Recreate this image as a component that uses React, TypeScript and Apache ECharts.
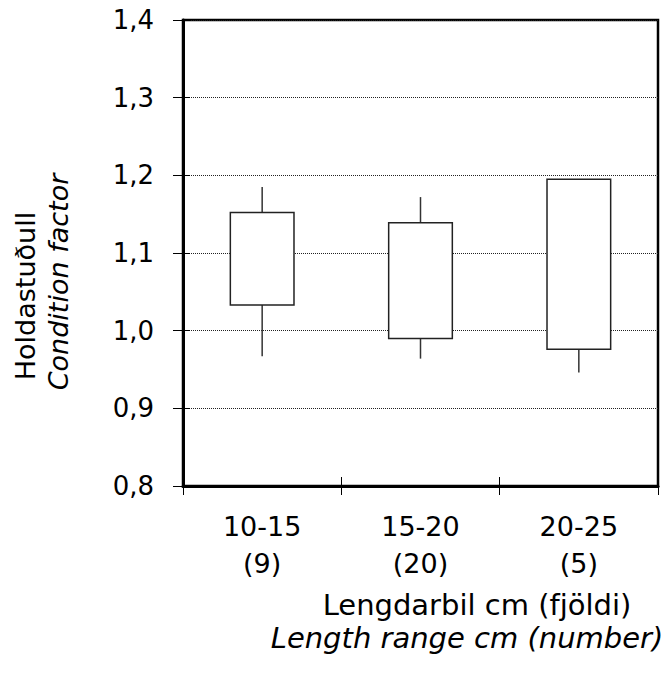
import React, { useEffect, useRef } from 'react';
import * as echarts from 'echarts';

const lengthRanges = ['10-15', '15-20', '20-25'];
const sampleCounts = [9, 20, 5];
const whiskerLow = [0.967, 0.964, 0.946];
const boxLow = [1.033, 0.99, 0.976];
const boxHigh = [1.152, 1.139, 1.195];
const whiskerHigh = [1.185, 1.172, 1.195];
const yMin = 0.8;
const yMax = 1.4;
const yStep = 0.1;
const yTitle = ['Holdastuðull', 'Condition factor'];
const xTitle = ['Lengdarbil cm (fjöldi)', 'Length range cm (number)'];

const FONT = '"DejaVu Sans", "Liberation Sans", Arial, sans-serif';

export default function App() {
  const ref = useRef<HTMLDivElement>(null);
  useEffect(() => {
    if (!ref.current) return;
    const chart = echarts.init(ref.current, undefined, { renderer: 'svg' });
    const categories = lengthRanges.map((r, i) => `${r}\n(${sampleCounts[i]})`);
    const data = lengthRanges.map((_, i) => [i, whiskerLow[i], boxLow[i], boxHigh[i], whiskerHigh[i]]);
    const fmt = (v: number) => v.toFixed(1).replace('.', ',');
    chart.setOption({
      animation: false,
      backgroundColor: '#fff',
      textStyle: { fontFamily: FONT },
      grid: {
        left: 183,
        right: 10,
        top: 20,
        bottom: 189,
        show: true,
        borderColor: '#000',
        borderWidth: 2.5,
        backgroundColor: 'transparent',
      },
      xAxis: [
        {
          type: 'category',
          data: categories,
          boundaryGap: true,
          axisLine: { show: true, lineStyle: { color: '#000', width: 3 } },
          axisTick: { show: true, inside: false, length: 9, alignWithLabel: false, interval: 0, lineStyle: { color: '#000', width: 1 } },
          axisLabel: {
            color: '#000',
            fontFamily: FONT,
            fontSize: 27,
            lineHeight: 37,
            margin: 22,
            interval: 0,
          },
          splitLine: { show: false },
        },
        {
          type: 'category',
          data: categories,
          position: 'bottom',
          boundaryGap: true,
          axisLine: { show: false },
          axisTick: { show: true, inside: true, length: 9, interval: 0, lineStyle: { color: '#000', width: 1 } },
          axisLabel: { show: false },
          splitLine: { show: false },
        },
      ],
      yAxis: [
        {
          type: 'value',
          min: yMin,
          max: yMax,
          interval: yStep,
          axisLine: { show: true, lineStyle: { color: '#000', width: 3 } },
          axisTick: { show: true, inside: false, length: 10, lineStyle: { color: '#000', width: 1 } },
          axisLabel: {
            color: '#000',
            fontFamily: FONT,
            fontSize: 26,
            margin: 29,
            formatter: fmt,
          },
          splitLine: { show: true, lineStyle: { color: '#222', width: 1, type: [1, 1] } },
        },
        {
          type: 'value',
          min: yMin,
          max: yMax,
          interval: yStep,
          position: 'left',
          axisLine: { show: false },
          axisTick: { show: true, inside: true, length: 7, lineStyle: { color: '#000', width: 1 } },
          axisLabel: { show: false },
          splitLine: { show: false },
        },
      ],
      series: [
        {
          type: 'custom',
          xAxisIndex: 0,
          yAxisIndex: 0,
          encode: { x: 0, y: [1, 2, 3, 4] },
          data,
          renderItem: (params: any, api: any) => {
            const i = api.value(0);
            const pMin = api.coord([i, api.value(1)]);
            const pQ1 = api.coord([i, api.value(2)]);
            const pQ3 = api.coord([i, api.value(3)]);
            const pMax = api.coord([i, api.value(4)]);
            const bw = api.size([1, 0])[0] * 0.402;
            const cx = pQ1[0];
            const lineStyle = { stroke: '#333', lineWidth: 1.5 };
            return {
              type: 'group',
              children: [
                { type: 'line', shape: { x1: cx, y1: pMax[1], x2: cx, y2: pQ3[1] }, style: lineStyle },
                { type: 'line', shape: { x1: cx, y1: pQ1[1], x2: cx, y2: pMin[1] }, style: lineStyle },
                {
                  type: 'rect',
                  shape: { x: cx - bw / 2, y: pQ3[1], width: bw, height: pQ1[1] - pQ3[1] },
                  style: { fill: '#fff', stroke: '#222', lineWidth: 1.5 },
                },
              ],
            };
          },
        },
      ],
      graphic: [
        {
          type: 'text',
          x: 25,
          y: 296,
          rotation: Math.PI / 2,
          style: { text: yTitle[0], fill: '#000', font: `27px ${FONT}`, align: 'center', verticalAlign: 'middle' },
        },
        {
          type: 'text',
          x: 58,
          y: 282,
          rotation: Math.PI / 2,
          style: { text: yTitle[1], fill: '#000', font: `italic 27px ${FONT}`, align: 'center', verticalAlign: 'middle' },
        },
        {
          type: 'text',
          x: 477,
          y: 605,
          style: { text: xTitle[0], fill: '#000', font: `29px ${FONT}`, align: 'center', verticalAlign: 'middle' },
        },
        {
          type: 'text',
          x: 467,
          y: 638,
          style: { text: xTitle[1], fill: '#000', font: `italic 29px ${FONT}`, align: 'center', verticalAlign: 'middle' },
        },
      ],
    });
    return () => chart.dispose();
  }, []);
  return <div ref={ref} style={{ position: 'absolute', left: 0, top: 0, width: 668, height: 675 }} />;
}
